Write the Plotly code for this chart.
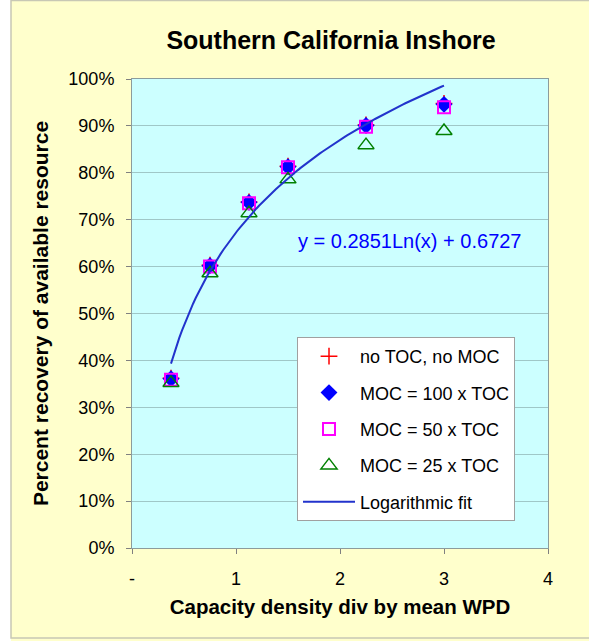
import numpy as np
import plotly.graph_objects as go

# capacity density / mean WPD
x_vals = [0.375, 0.75, 1.125, 1.5, 2.25, 3.0]

# percent recovery of available resource
no_toc = [0.362, 0.603, 0.738, 0.814, 0.902, 0.948]
moc_100 = [0.361, 0.602, 0.737, 0.813, 0.901, 0.946]
moc_50 = [0.359, 0.600, 0.735, 0.812, 0.898, 0.940]
moc_25 = [0.352, 0.586, 0.714, 0.786, 0.859, 0.889]

# logarithmic fit y = a*Ln(x) + b, coefficients as printed on the chart
fit_a = 0.2851
fit_b = 0.6727
fit_label = "y = 0.2851Ln(x) + 0.6727"

x_ticks = [0, 1, 2, 3, 4]
x_ticktext = ["-", "1", "2", "3", "4"]

font = "Liberation Sans, Arial, sans-serif"

fit_x = np.linspace(min(x_vals), max(x_vals), 100)
fit_y = fit_a * np.log(fit_x) + fit_b

# pixel -> paper helpers (plot area 132..548 x 79..548)
def px(v):
    return (v - 132) / 416

def py(v):
    return (548 - v) / 469

fig = go.Figure()
fig.add_trace(go.Scatter(x=x_vals, y=no_toc, mode="markers", name="no TOC, no MOC",
                         legendgroup="a",
                         marker={"symbol": "cross-thin", "size": 12, "line": {"color": "#FF0000", "width": 1.5}}))
fig.add_trace(go.Scatter(x=x_vals, y=moc_100, mode="markers", name="MOC = 100 x TOC",
                         legendgroup="b",
                         marker={"symbol": "diamond", "size": 13, "color": "#0000FF"}))
fig.add_trace(go.Scatter(x=x_vals, y=moc_50, mode="markers", name="MOC = 50 x TOC",
                         legendgroup="c",
                         marker={"symbol": "square-open", "size": 12, "color": "#FF00FF", "line": {"width": 2}}))
fig.add_trace(go.Scatter(x=x_vals, y=moc_25, mode="markers", name="MOC = 25 x TOC",
                         legendgroup="d",
                         marker={"symbol": "triangle-up-open", "size": 14, "color": "#008000", "line": {"width": 1.5}}))
fig.add_trace(go.Scatter(x=fit_x, y=fit_y, mode="lines", name="Logarithmic fit",
                         legendgroup="e",
                         line={"color": "#2233CC", "width": 2}))

fig.add_annotation(x=2.67, y=0.655, text=fit_label, showarrow=False,
                   font={"family": font, "size": 20, "color": "#0000FF"})

fig.update_layout(
    width=589, height=641,
    paper_bgcolor="#FFFFCC",
    plot_bgcolor="#CCFFFF",
    margin={"l": 132, "r": 41, "t": 79, "b": 93},
    font={"family": font, "size": 18, "color": "#000000"},
    title={"text": "<b>Southern California Inshore</b>", "x": 331 / 589, "xanchor": "center",
           "y": 1 - 40 / 641, "yanchor": "middle", "font": {"size": 25, "family": font}},
    legend={"x": px(297), "y": py(337), "xanchor": "left", "yanchor": "top",
            "bgcolor": "#FFFFFF", "bordercolor": "#A0A0A0", "borderwidth": 1,
            "itemwidth": 52,
            "tracegroupgap": 10, "font": {"size": 18, "family": font}},
    xaxis={"range": [0, 4], "tickvals": x_ticks, "ticktext": x_ticktext,
           "showgrid": False, "zeroline": False,
           "showline": True, "linecolor": "#8C9C9C", "mirror": True,
           "ticks": "outside", "ticklen": 5, "tickcolor": "#808080",
           "ticklabelstandoff": 9,
           "title": {"text": "<b>Capacity density div by mean WPD</b>", "font": {"size": 20.5}, "standoff": 12}},
    yaxis={"range": [0, 1], "dtick": 0.1, "tickformat": ".0%",
           "showgrid": True, "gridcolor": "#9FC7C7", "gridwidth": 1, "zeroline": False,
           "showline": True, "linecolor": "#8C9C9C", "mirror": True,
           "ticks": "outside", "ticklen": 5, "tickcolor": "#808080",
           "ticklabelstandoff": 8,
           "title": {"text": "<b>Percent recovery of available resource</b>", "font": {"size": 21}, "standoff": 14}},
    shapes=[
        {"type": "rect", "xref": "paper", "yref": "paper", "x0": px(-5), "x1": px(11),
         "y0": py(660), "y1": py(-20), "fillcolor": "#FFFFFF", "line": {"width": 0}, "layer": "below"},
        {"type": "rect", "xref": "paper", "yref": "paper", "x0": px(11), "x1": px(600),
         "y0": py(638), "y1": py(0.5), "line": {"color": "#C8C8B4", "width": 1.5}, "layer": "below"},
    ],
)

fig.write_html("out.html", config={"displayModeBar": False},
               post_script="document.body.style.margin='0';")
